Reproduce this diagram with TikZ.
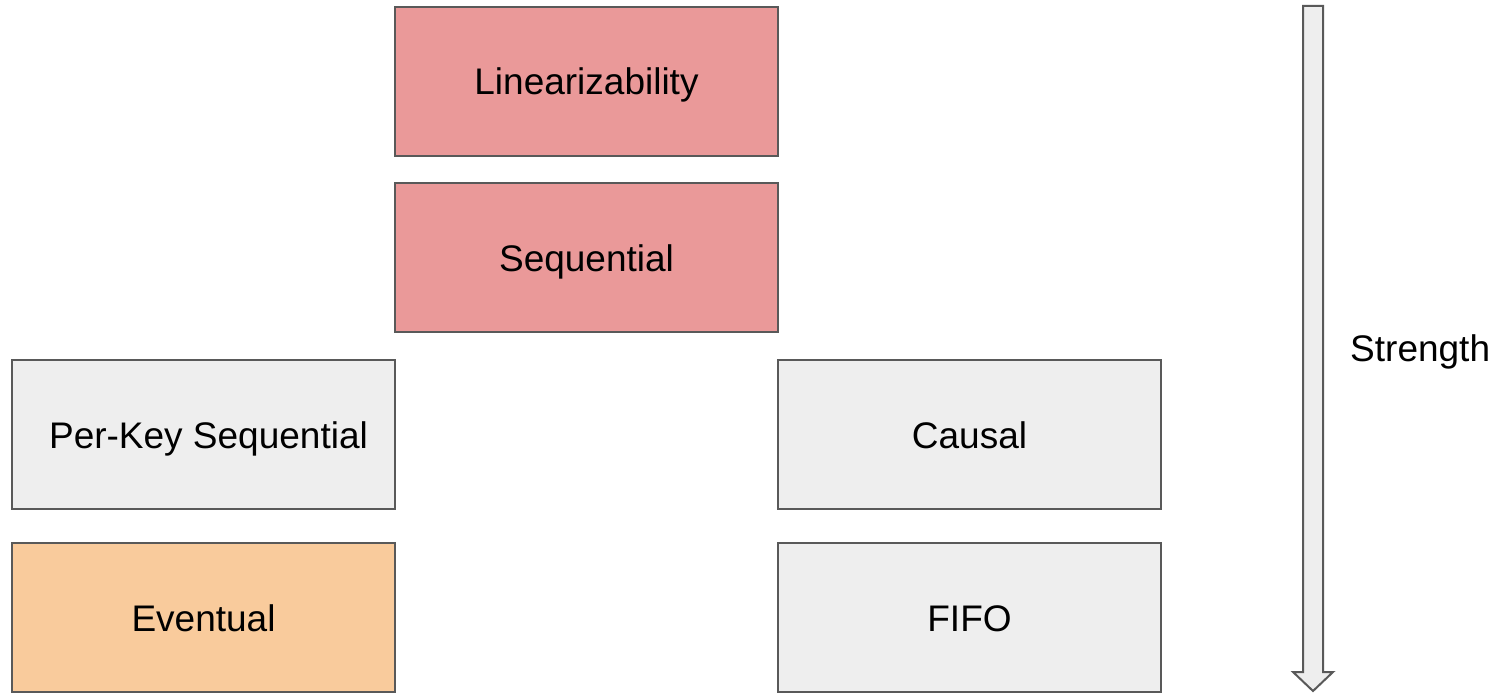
\documentclass[tikz,border=0pt]{standalone}
\usepackage{fontspec}
\setmainfont{Liberation Sans}
\begin{document}
\begin{tikzpicture}[x=1pt,y=-1pt,
  label text/.style={font=\fontsize{37}{44}\selectfont,text height=35pt,text depth=8pt},
  level/.style={draw=edgegray,line width=2pt,minimum width=383pt,minimum height=149pt,
    inner sep=0pt,label text,anchor=north west},
  strong/.style={level,fill=strongred},
  neutral/.style={level,fill=lightgray1},
  weak/.style={level,fill=weakorange}]
\definecolor{strongred}{HTML}{EA9999}
\definecolor{lightgray1}{HTML}{EEEEEE}
\definecolor{weakorange}{HTML}{F9CB9C}
\definecolor{edgegray}{HTML}{595959}
\useasboundingbox (0,0) rectangle (1507,693);

% consistency levels
\node[strong]  (lin)    at (394,6)   {Linearizability};
\node[strong]  (seq)    at (394,182) {Sequential};
\node[neutral] (perkey) at (11,359)  {\hspace*{10pt}Per-Key Sequential};
\node[neutral] (causal) at (777,359) {Causal};
\node[weak]    (event)  at (11,542)  {Eventual};
\node[neutral] (fifo)   at (777,542) {FIFO};

% strength axis: block arrow pointing down
\draw[draw=edgegray,fill=lightgray1,line width=2pt,line join=miter]
  (1303,6) -- (1323,6) -- (1323,672) -- (1333,672) -- (1313,691)
  -- (1293,672) -- (1303,672) -- cycle;
\node[label text,inner sep=0pt,anchor=west] (strength) at (1350,348) {Strength};
\end{tikzpicture}
\end{document}
